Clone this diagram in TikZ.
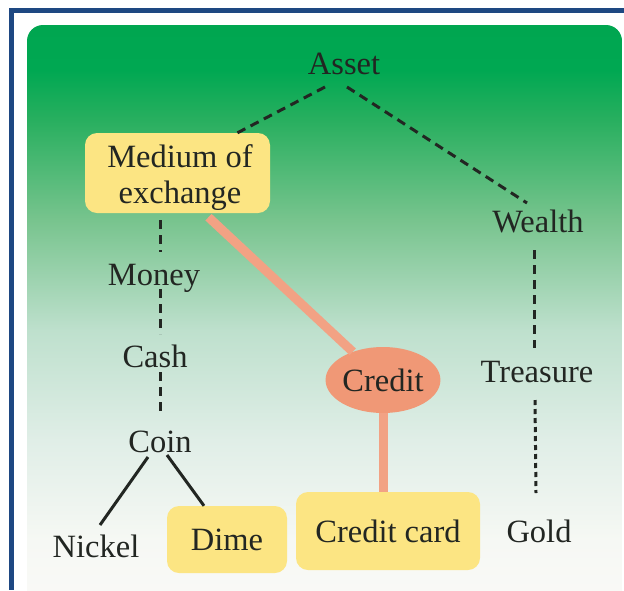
\documentclass[tikz,border=0pt]{standalone}
\usepackage{fontspec}
\setmainfont{Liberation Serif}
\usetikzlibrary{shapes.geometric}

\definecolor{frameblue}{RGB}{30,72,130}
\definecolor{ink}{RGB}{34,38,34}
\definecolor{boxyellow}{RGB}{252,229,131}
\definecolor{creditfill}{RGB}{240,152,118}
\definecolor{creditline}{RGB}{242,162,132}
\definecolor{gA}{RGB}{250,250,247}
\definecolor{gB}{RGB}{246,248,244}
\definecolor{gC}{RGB}{224,238,231}
\definecolor{gD}{RGB}{190,224,205}
\definecolor{gE}{RGB}{120,196,142}
\definecolor{gF}{RGB}{40,175,95}
\definecolor{gG}{RGB}{0,168,82}
\definecolor{gH}{RGB}{0,166,80}

% background panel: deep green at the top fading to near white
\pgfdeclareverticalshading{panelfade}{100bp}{%
  color(0bp)=(gA); color(25bp)=(gA); color(31bp)=(gB); color(39.5bp)=(gC);
  color(48.9bp)=(gD); color(58.3bp)=(gE); color(66.9bp)=(gF);
  color(71.2bp)=(gG); color(75bp)=(gH); color(100bp)=(gH)}

\tikzset{
  label/.style={font=\fontsize{32.5}{36}\selectfont, text=ink, inner sep=0pt},
  keybox/.style={label, fill=boxyellow, rounded corners=12pt, align=center},
  link/.style={draw=ink, line width=3pt},
  dashlink/.style={link, dash pattern=on 9pt off 6pt},
  dotlink/.style={link, dash pattern=on 5pt off 4pt},
  creditlink/.style={draw=creditline, line width=9pt},
}

\begin{document}
\begin{tikzpicture}[x=1pt,y=-1pt]
\useasboundingbox (0,0) rectangle (624,590);
\clip (0,0) rectangle (624,590);
\fill[white] (0,0) rectangle (624,590);

% frame and panel
\shade[shading=panelfade, rounded corners=16pt] (27,25) rectangle (622,610);
\draw[frameblue, line width=5pt] (9,10.5) -- (624,10.5);
\draw[frameblue, line width=5pt] (11.5,8) -- (11.5,590);

% nodes
\node[label, anchor=base] (asset) at (344,74) {Asset};
\node[keybox, minimum width=185pt, minimum height=80pt] (medium) at (177.5,173) {};
\node[label, align=center] (mediumtext) at (180,177.5) {Medium of\\exchange};
\node[label, anchor=base] (wealth) at (538,232) {Wealth};
\node[label, anchor=base] (money) at (154,285) {Money};
\node[label, anchor=base] (cash) at (155,367) {Cash};
\node[label, anchor=base] (coin) at (160,452) {Coin};
\node[label, ellipse, fill=creditfill, minimum width=114pt, minimum height=66pt]
  (credit) at (383,380) {Credit};
\node[label, anchor=base] (treasure) at (537,382) {Treasure};
\node[label, anchor=base] (nickel) at (96,557) {Nickel};
\node[keybox, minimum width=120pt, minimum height=67pt] (dime) at (227,539.5) {Dime};
\node[keybox, minimum width=184pt, minimum height=78pt] (creditcard) at (388,531)
  {Credit card};
\node[label, anchor=base] (gold) at (539,542) {Gold};

% connectors
\draw[dashlink] ([shift={(-19,13)}]asset.base) -- ([xshift=60pt]medium.north);
\draw[dashlink] ([shift={(3,13)}]asset.base) -- ([shift={(-11,-29)}]wealth.base);
\draw[dashlink] ([shift={(-17.5,7)}]medium.south) -- ([shift={(6,-33)}]money.base);
\draw[dashlink] ([shift={(6,4)}]money.base) -- ([shift={(5,-33)}]cash.base);
\draw[dashlink] ([shift={(5,5)}]cash.base) -- ([shift={(0,-36)}]coin.base);
\draw[link] ([shift={(-12,5)}]coin.base) -- ([shift={(4,-32)}]nickel.base);
\draw[link] ([shift={(7,3)}]coin.base) -- ([xshift=-23pt]dime.north);
\draw[dashlink] ([shift={(-4,18)}]wealth.base) -- ([shift={(-3,-34)}]treasure.base);
\draw[dotlink] ([shift={(-2,18)}]treasure.base) -- ([shift={(-3,-49)}]gold.base);
\draw[creditlink] ([shift={(31,4)}]medium.south) -- (credit);
\draw[creditlink] (credit.south) -- (credit.south |- creditcard.north);
\end{tikzpicture}
\end{document}
